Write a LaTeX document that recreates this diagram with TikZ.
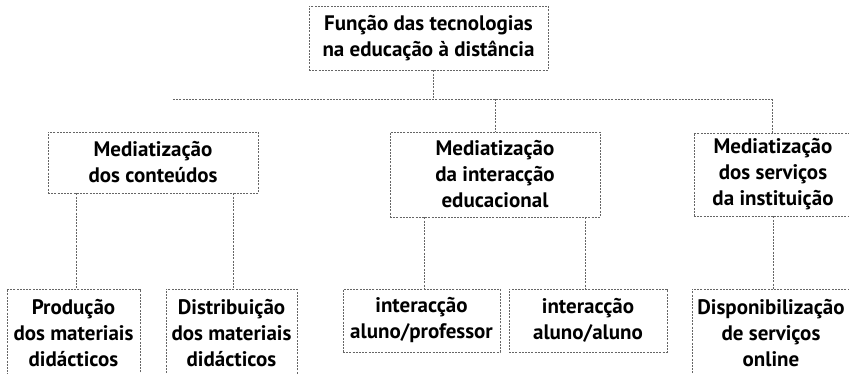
\documentclass[tikz,border=0pt]{standalone}
\usepackage{fontspec}
\setmainfont{PT Sans}
\begin{document}
\begin{tikzpicture}[x=1pt,y=1pt,
  boxst/.style={draw=black!60, line width=0.7pt, dash pattern=on 2pt off 1.2pt,
    inner sep=0pt, align=center, font={\bfseries\fontsize{21}{26}\selectfont}},
  conn/.style={draw=black!60, line width=0.7pt, dash pattern=on 2pt off 1.2pt}]
\useasboundingbox (0,0) rectangle (849,374);
\clip (0,0) rectangle (849,374);
\node[boxst, minimum width=239pt, minimum height=64pt] (top) at (428.5,336) {Função das tecnologias\\na educação à distância};
\node[boxst, minimum width=210pt, minimum height=61pt] (left) at (153,211.5) {Mediatização\\dos conteúdos};
\node[boxst, minimum width=210pt, minimum height=85pt] (mid) at (495,199.5) {Mediatização\\da interacção\\educacional};
\node[boxst, minimum width=158pt, minimum height=83pt] (right) at (773,199.5) {Mediatização\\dos serviços\\da instituição};
\node[boxst, minimum width=133pt, minimum height=88pt] (prod) at (73.5,41) {Produção\\dos materiais\\didácticos};
\node[boxst, minimum width=131pt, minimum height=88pt] (dist) at (231.5,41) {Distribuição\\dos materiais\\didácticos};
\node[boxst, minimum width=157pt, minimum height=63pt] (prof) at (421.5,53.5) {interacção\\aluno/professor};
\node[boxst, minimum width=158pt, minimum height=63pt] (aluno) at (588,53.5) {interacção\\aluno/aluno};
\node[boxst, minimum width=158pt, minimum height=88pt] (disp) at (771,41) {Disponibilização\\de serviços\\online};
\coordinate (hl) at (173,275);
\coordinate (hr) at (772,275);
\coordinate (c0) at (433,0);
\coordinate (c1) at (76,0);
\coordinate (c2) at (233,0);
\coordinate (c3) at (424,0);
\coordinate (c4) at (585,0);
\coordinate (c5) at (773,0);
\draw[conn] (top.south -| c0) -- (hl -| c0);
\draw[conn] (hl) -- (hr);
\draw[conn] (hl -| mid.north) -- (mid.north);
\draw[conn] (hr) -- (right.north -| hr);
\draw[conn] (left.south -| c1) -- (prod.north -| c1);
\draw[conn] (left.south -| c2) -- (dist.north -| c2);
\draw[conn] (mid.south -| c3) -- (prof.north -| c3);
\draw[conn] (mid.south -| c4) -- (aluno.north -| c4);
\draw[conn] (right.south -| c5) -- (disp.north -| c5);
\end{tikzpicture}
\end{document}
